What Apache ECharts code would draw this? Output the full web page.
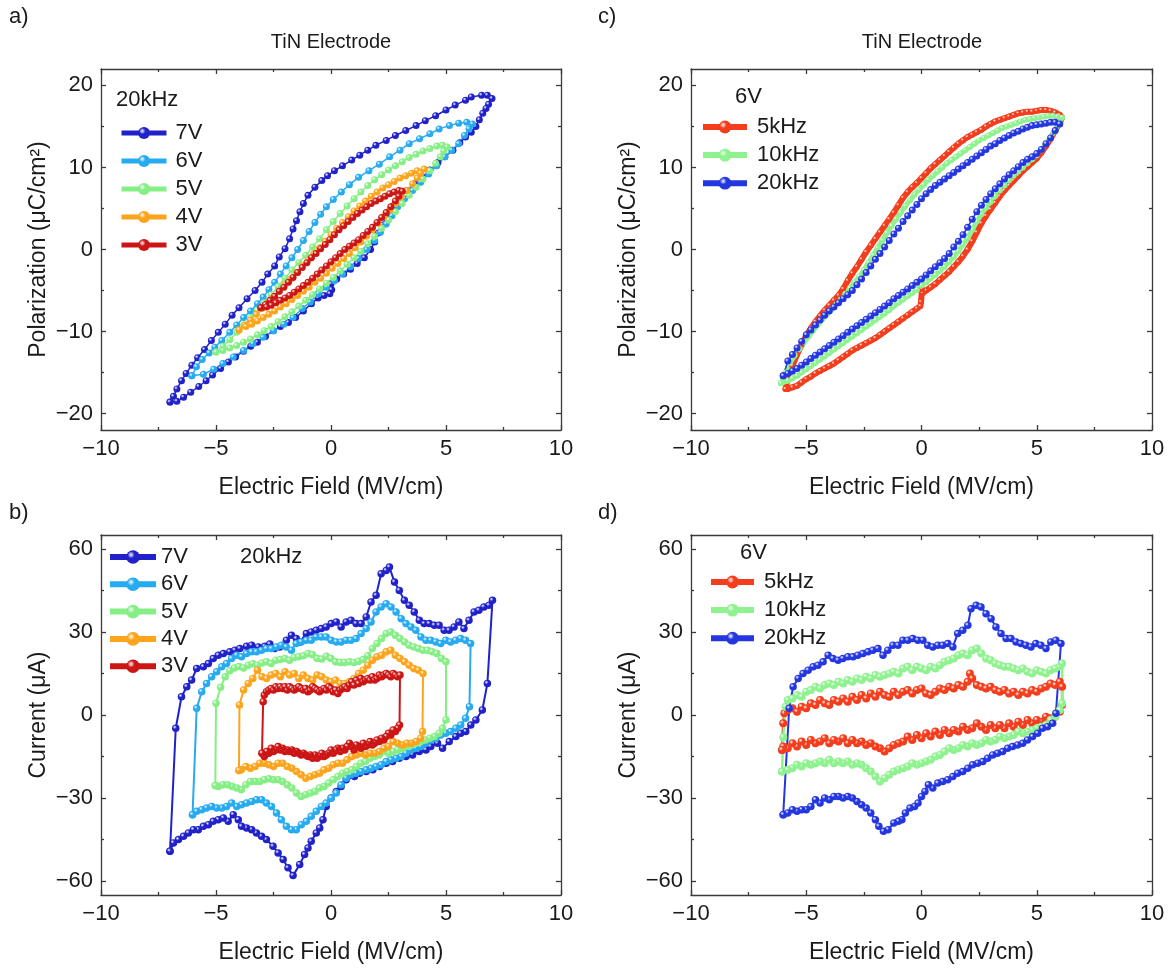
<!DOCTYPE html>
<html>
<head>
<meta charset="utf-8">
<title>TiN Electrode P–E and I–E loops</title>
<script src="https://cdn.jsdelivr.net/npm/echarts@6/dist/echarts.min.js"></script>
<style>
  html, body { margin: 0; padding: 0; background: #ffffff; }
  #chart { width: 1175px; height: 968px; }
</style>
</head>
<body>
<div id="chart"></div>
<script>
// ---------- axis ticks ----------
const fieldTicks = [-10, -5, 0, 5, 10];
const fieldMinor = [-7.5, -2.5, 2.5, 7.5];
const polTicks = [-20, -10, 0, 10, 20];
const polMinor = [-15, -5, 5, 15];
const curTicks = [-60, -30, 0, 30, 60];
const curMinor = [-45, -15, 15, 45];

const voltLabels = ['7V', '6V', '5V', '4V', '3V'];
const freqLabels = ['5kHz', '10kHz', '20kHz'];

// ---------- (a) P–E loops at 20 kHz, [E (MV/cm), P (µC/cm²)] ----------
const pe7V = [
  [-7.0,-18.6],[-6.85,-17.9],[-6.7,-17.0],[-6.5,-16.0],[-6.3,-15.1],[-6.05,-14.1],[-5.8,-13.2],[-5.5,-12.2],
  [-5.2,-11.1],[-4.9,-10.1],[-4.6,-9.1],[-4.3,-8.0],[-4.0,-7.1],[-3.65,-6.0],[-3.3,-5.0],[-3.0,-4.0],
  [-2.75,-3.0],[-2.45,-2.0],[-2.25,-0.9],[-2.0,0.1],[-1.8,1.3],[-1.65,2.5],[-1.5,3.5],[-1.35,4.6],
  [-1.2,5.6],[-1.0,6.6],[-0.7,7.6],[-0.4,8.4],[-0.15,9.0],[0.15,9.6],[0.5,10.2],[0.9,10.9],
  [1.25,11.5],[1.6,12.1],[1.95,12.7],[2.4,13.3],[2.8,13.9],[3.25,14.5],[3.7,15.1],[4.1,15.7],
  [4.55,16.3],[5.0,17.0],[5.4,17.6],[5.85,18.2],[6.1,18.6],[6.55,18.8],[6.8,18.8],[7.0,18.4],
  [6.85,17.7],[6.74,17.2],[6.6,16.6],[6.45,15.8],[6.3,15.0],[6.1,14.3],[5.85,13.7],[5.6,13.0],
  [5.3,12.1],[4.95,11.3],[4.65,10.6],[4.3,9.7],[3.98,8.8],[3.65,8.0],[3.3,7.2],[3.0,6.4],
  [2.7,5.3],[2.45,4.3],[2.25,3.0],[2.05,2.0],[1.9,0.9],[1.72,0.0],[1.45,-1.0],[1.14,-1.7],
  [0.85,-2.4],[0.55,-3.0],[0.25,-3.6],[0.0,-4.2],[0.03,-4.9],[-0.05,-5.4],[-0.3,-5.6],[-0.56,-5.9],
  [-0.85,-6.6],[-1.2,-7.5],[-1.54,-8.3],[-1.85,-8.9],[-2.2,-9.4],[-2.51,-9.9],[-2.85,-10.6],[-3.2,-11.3],
  [-3.49,-11.8],[-3.8,-12.4],[-4.15,-13.1],[-4.46,-13.7],[-4.8,-14.5],[-5.15,-15.3],[-5.43,-16.0],[-5.75,-16.7],
  [-6.1,-17.4],[-6.41,-18.0],[-6.7,-18.5],[-7.0,-18.6]
];
const pe6V = [
  [-6.05,-15.4],[-5.85,-14.3],[-5.6,-13.4],[-5.3,-12.6],[-5.05,-11.9],[-4.75,-11.1],[-4.4,-10.1],[-4.1,-9.2],
  [-3.8,-8.3],[-3.5,-7.5],[-3.2,-6.6],[-2.95,-5.8],[-2.7,-4.9],[-2.45,-4.0],[-2.2,-3.0],[-1.95,-2.0],
  [-1.7,-1.0],[-1.45,0.0],[-1.2,1.1],[-0.95,2.2],[-0.7,3.3],[-0.45,4.3],[-0.2,5.2],[0.1,6.1],
  [0.45,7.0],[0.8,7.9],[1.2,8.8],[1.65,9.6],[2.1,10.4],[2.55,11.3],[3.0,12.1],[3.4,12.9],
  [3.85,13.5],[4.3,14.1],[4.7,14.7],[5.15,15.1],[5.55,15.4],[5.9,15.5],[6.15,15.3],
  [6.0,14.7],[5.8,13.9],[5.55,12.9],[5.25,12.1],[4.95,11.3],[4.6,10.2],[4.25,9.2],[3.9,8.2],
  [3.55,7.2],[3.2,6.2],[2.9,5.2],[2.65,4.1],[2.4,3.1],[2.15,2.1],[1.9,1.1],[1.55,0.0],
  [1.2,-1.1],[0.85,-2.1],[0.5,-3.0],[0.15,-3.8],[-0.2,-4.6],[-0.55,-5.4],[-0.9,-6.4],[-1.25,-7.2],
  [-1.65,-8.3],[-2.05,-9.1],[-2.5,-9.9],[-2.95,-10.7],[-3.4,-11.5],[-3.8,-12.3],[-4.25,-13.1],[-4.7,-13.9],
  [-5.1,-14.6],[-5.55,-15.2],[-6.05,-15.4]
];
const pe5V = [
  [-5.0,-12.5],[-4.7,-11.8],[-4.4,-11.0],[-4.1,-10.1],[-3.8,-9.2],[-3.5,-8.3],[-3.2,-7.4],[-2.9,-6.5],
  [-2.6,-5.5],[-2.3,-4.5],[-2.0,-3.5],[-1.7,-2.5],[-1.4,-1.6],[-1.1,-0.7],[-0.8,0.3],[-0.5,1.3],
  [-0.2,2.4],[0.1,3.4],[0.4,4.4],[0.7,5.3],[1.0,6.2],[1.3,7.0],[1.6,7.8],[1.9,8.5],
  [2.2,9.1],[2.5,9.7],[2.8,10.2],[3.1,10.7],[3.4,11.2],[3.7,11.6],[4.0,12.0],[4.3,12.3],
  [4.6,12.6],[4.85,12.7],[5.05,12.5],
  [4.9,12.0],[4.75,11.3],[4.55,10.5],[4.3,9.6],[4.0,8.6],[3.7,7.6],[3.4,6.6],[3.1,5.6],
  [2.8,4.6],[2.5,3.6],[2.2,2.6],[1.9,1.6],[1.6,0.7],[1.3,-0.2],[1.0,-1.0],[0.7,-1.8],
  [0.4,-2.6],[0.1,-3.4],[-0.2,-4.1],[-0.5,-4.8],[-0.8,-5.5],[-1.1,-6.2],[-1.4,-6.9],[-1.7,-7.6],
  [-2.0,-8.2],[-2.3,-8.8],[-2.6,-9.4],[-2.9,-9.9],[-3.2,-10.4],[-3.5,-10.9],[-3.8,-11.3],[-4.1,-11.7],
  [-4.4,-12.0],[-4.7,-12.3],[-5.0,-12.5]
];
const pe4V = [
  [-4.0,-9.8],[-3.75,-9.2],[-3.5,-8.6],[-3.25,-7.9],[-3.0,-7.2],[-2.75,-6.5],[-2.5,-5.8],[-2.25,-5.1],
  [-2.0,-4.3],[-1.75,-3.6],[-1.5,-2.8],[-1.25,-2.0],[-1.0,-1.3],[-0.75,-0.5],[-0.5,0.2],[-0.25,1.0],
  [0.0,1.8],[0.25,2.6],[0.5,3.3],[0.75,4.0],[1.0,4.7],[1.25,5.3],[1.5,5.9],[1.75,6.5],
  [2.0,7.0],[2.25,7.5],[2.5,7.9],[2.75,8.3],[3.0,8.7],[3.25,9.0],[3.5,9.3],[3.75,9.6],[4.05,9.8],
  [3.9,9.3],[3.75,8.7],[3.55,8.0],[3.3,7.2],[3.05,6.4],[2.8,5.6],[2.55,4.8],[2.3,4.0],
  [2.05,3.2],[1.8,2.4],[1.55,1.6],[1.3,0.9],[1.05,0.2],[0.8,-0.5],[0.55,-1.1],[0.3,-1.7],
  [0.05,-2.3],[-0.2,-2.9],[-0.45,-3.5],[-0.7,-4.0],[-0.95,-4.6],[-1.2,-5.1],[-1.45,-5.6],[-1.7,-6.1],
  [-1.95,-6.6],[-2.2,-7.0],[-2.45,-7.5],[-2.7,-7.9],[-2.95,-8.3],[-3.2,-8.7],[-3.45,-9.1],[-3.7,-9.4],[-4.0,-9.8]
];
const pe3V = [
  [-3.05,-7.1],[-2.85,-6.7],[-2.65,-6.2],[-2.45,-5.7],[-2.25,-5.1],[-2.05,-4.6],[-1.85,-4.0],[-1.65,-3.4],
  [-1.45,-2.8],[-1.25,-2.2],[-1.05,-1.6],[-0.85,-1.0],[-0.65,-0.5],[-0.45,0.1],[-0.25,0.6],[-0.05,1.2],
  [0.15,1.8],[0.35,2.4],[0.55,2.9],[0.75,3.4],[0.95,3.9],[1.15,4.4],[1.35,4.8],[1.55,5.2],
  [1.75,5.6],[1.95,5.9],[2.15,6.2],[2.35,6.5],[2.55,6.8],[2.75,7.0],[2.95,7.2],[3.1,7.1],
  [2.95,6.5],[2.8,5.9],[2.6,5.2],[2.4,4.5],[2.2,3.9],[2.0,3.3],[1.8,2.7],[1.6,2.2],
  [1.4,1.7],[1.2,1.2],[1.0,0.8],[0.8,0.4],[0.6,0.0],[0.4,-0.5],[0.2,-1.0],[0.0,-1.5],
  [-0.2,-2.0],[-0.4,-2.5],[-0.6,-3.0],[-0.8,-3.5],[-1.0,-4.0],[-1.2,-4.4],[-1.4,-4.8],[-1.6,-5.2],
  [-1.8,-5.6],[-2.0,-5.9],[-2.2,-6.2],[-2.4,-6.5],[-2.6,-6.8],[-2.8,-7.0],[-3.05,-7.1]
];

// ---------- (b) I–E loops at 20 kHz, [E (MV/cm), I (µA)] ----------
const ie7V = [
  [-7.0,-49.2],[-6.75,-4.8],[-6.5,6.6],[-6.27,10.2],[-6.06,12.6],[-5.84,16.8],[-5.55,17.4],[-5.33,18.6],
  [-5.12,20.4],[-4.9,21.6],[-4.68,22.2],[-4.4,22.8],[-4.18,23.4],[-3.96,24.0],[-3.67,24.8],[-3.45,25.2],
  [-3.16,24.6],[-2.88,24.8],[-2.66,25.6],[-2.45,24.0],[-2.23,24.6],[-1.94,27.0],[-1.72,28.8],[-1.51,27.6],
  [-1.36,26.4],[-1.07,29.4],[-0.86,30.0],[-0.64,30.6],[-0.42,31.2],[-0.21,31.8],[0.01,33.0],[0.23,33.6],
  [0.44,31.8],[0.66,33.6],[0.87,34.2],[1.09,33.0],[1.31,33.0],[1.53,35.4],[1.74,40.8],[1.96,43.2],
  [2.18,51.0],[2.4,52.2],[2.54,53.4],[2.76,48.0],[2.97,45.0],[3.19,41.4],[3.4,39.6],[3.62,37.2],
  [3.84,34.2],[4.05,33.0],[4.27,33.0],[4.49,32.4],[4.7,32.4],[4.92,30.6],[5.13,30.6],[5.35,31.8],
  [5.56,33.6],[5.78,31.2],[6.0,34.2],[6.22,37.2],[6.43,37.8],[6.65,39.0],[6.87,39.6],[7.02,41.4],
  [6.8,11.4],[6.58,1.8],[6.3,-1.8],[6.08,-3.6],[5.86,-6.0],[5.64,-6.6],[5.43,-7.8],[5.14,-9.6],
  [4.85,-12.0],[4.63,-10.2],[4.34,-11.4],[4.13,-12.6],[3.84,-13.2],[3.55,-14.4],[3.26,-15.0],[2.97,-15.6],
  [2.68,-16.8],[2.4,-17.4],[2.11,-18.6],[1.82,-19.8],[1.53,-20.4],[1.24,-21.0],[1.02,-22.2],[0.66,-23.4],
  [0.44,-25.8],[0.23,-27.6],[0.01,-30.0],[-0.21,-33.0],[-0.35,-37.8],[-0.49,-40.8],[-0.64,-42.6],[-0.86,-45.6],
  [-1.0,-48.0],[-1.15,-50.4],[-1.36,-54.0],[-1.65,-58.0],[-1.87,-55.2],[-2.08,-52.2],[-2.3,-49.8],[-2.52,-47.4],
  [-2.81,-45.0],[-3.02,-43.8],[-3.24,-42.6],[-3.45,-41.4],[-3.67,-40.8],[-3.89,-40.2],[-4.03,-37.8],[-4.25,-36.0],
  [-4.47,-38.4],[-4.68,-37.2],[-4.9,-37.8],[-5.12,-38.4],[-5.33,-39.6],[-5.55,-40.2],[-5.77,-41.4],[-5.98,-41.4],
  [-6.2,-42.6],[-6.41,-43.8],[-6.63,-45.0],[-6.85,-46.2],[-7.0,-49.2]
];
const ie6V = [
  [-6.02,-36.0],[-5.84,2.4],[-5.62,8.4],[-5.41,11.4],[-5.19,13.8],[-4.97,15.6],[-4.75,17.4],[-4.54,18.6],
  [-4.32,20.4],[-4.1,21.6],[-3.89,21.0],[-3.67,22.2],[-3.45,22.8],[-3.24,22.8],[-3.02,23.4],[-2.81,24.0],
  [-2.59,24.0],[-2.37,24.6],[-2.16,25.2],[-1.94,24.6],[-1.72,23.4],[-1.51,25.8],[-1.29,26.4],[-1.07,27.0],
  [-0.86,27.0],[-0.64,28.2],[-0.42,28.2],[-0.21,28.2],[0.01,27.0],[0.23,26.4],[0.44,26.4],[0.66,27.0],
  [0.87,27.0],[1.09,27.6],[1.31,29.4],[1.53,31.2],[1.74,33.6],[1.96,37.2],[2.18,39.0],[2.4,40.2],
  [2.61,39.0],[2.83,37.2],[3.05,34.8],[3.26,33.0],[3.48,31.8],[3.69,30.6],[3.91,28.2],[4.13,27.0],
  [4.34,27.0],[4.56,26.4],[4.77,25.8],[4.99,27.0],[5.2,26.4],[5.42,27.0],[5.64,27.6],[5.85,27.0],[6.07,25.8],
  [6.02,3.0],[5.85,-1.2],[5.64,-3.6],[5.43,-4.8],[5.2,-6.0],[4.99,-6.6],[4.77,-7.2],[4.56,-8.4],
  [4.34,-9.0],[4.13,-10.2],[3.91,-11.4],[3.69,-12.0],[3.48,-12.6],[3.26,-13.8],[3.05,-15.0],[2.83,-15.6],
  [2.61,-16.2],[2.4,-16.8],[2.18,-18.0],[1.96,-18.6],[1.74,-19.2],[1.53,-19.8],[1.31,-20.4],[1.09,-21.0],
  [0.87,-21.6],[0.66,-22.8],[0.44,-25.2],[0.23,-28.2],[0.01,-30.0],[-0.21,-31.8],[-0.42,-33.0],[-0.64,-34.8],
  [-0.86,-36.6],[-1.07,-38.4],[-1.29,-39.6],[-1.51,-41.4],[-1.72,-41.4],[-1.94,-40.2],[-2.16,-37.8],[-2.37,-35.4],
  [-2.59,-33.0],[-2.81,-31.8],[-3.02,-30.6],[-3.24,-30.6],[-3.45,-31.2],[-3.67,-31.8],[-3.89,-32.4],[-4.1,-33.0],
  [-4.32,-31.8],[-4.54,-33.0],[-4.75,-33.6],[-4.97,-33.6],[-5.19,-33.0],[-5.41,-33.6],[-5.62,-34.2],[-5.84,-34.8],[-6.02,-36.0]
];
const ie5V = [
  [-5.03,-25.5],[-5.0,4.2],[-4.8,10.0],[-4.6,13.8],[-4.4,16.0],[-4.2,17.0],[-4.0,17.5],[-3.8,17.0],
  [-3.6,18.0],[-3.4,18.5],[-3.2,18.0],[-3.0,18.8],[-2.8,19.2],[-2.6,18.6],[-2.4,19.8],[-2.2,20.0],
  [-2.0,20.4],[-1.8,19.8],[-1.6,20.8],[-1.4,21.0],[-1.2,21.4],[-1.0,22.2],[-0.8,21.8],[-0.6,20.4],
  [-0.4,20.2],[-0.2,21.2],[0.0,20.4],[0.2,19.2],[0.4,19.0],[0.6,19.0],[0.8,19.2],[1.0,19.0],
  [1.2,19.4],[1.4,20.0],[1.6,21.4],[1.8,24.0],[2.0,25.8],[2.2,27.6],[2.4,29.4],[2.6,30.0],
  [2.8,28.8],[3.0,27.6],[3.2,26.4],[3.4,25.2],[3.6,24.6],[3.8,24.0],[4.0,23.4],[4.2,23.4],
  [4.4,22.8],[4.6,22.2],[4.8,20.4],[5.0,19.2],
  [5.0,-1.8],[4.85,-4.8],[4.7,-6.6],[4.5,-7.8],[4.3,-8.4],[4.1,-9.0],[3.9,-9.6],[3.7,-10.2],
  [3.5,-10.8],[3.3,-11.4],[3.1,-12.0],[2.9,-12.6],[2.7,-13.2],[2.5,-13.8],[2.3,-13.2],[2.1,-14.4],
  [1.9,-15.0],[1.7,-15.6],[1.5,-16.8],[1.3,-17.4],[1.1,-18.6],[0.9,-19.8],[0.7,-20.4],[0.5,-21.0],
  [0.3,-22.2],[0.1,-23.4],[-0.1,-24.6],[-0.3,-25.8],[-0.5,-26.4],[-0.7,-27.6],[-0.9,-28.2],[-1.1,-28.8],
  [-1.3,-29.4],[-1.5,-28.2],[-1.7,-26.4],[-1.9,-25.2],[-2.1,-24.0],[-2.3,-23.4],[-2.5,-23.4],[-2.7,-23.0],
  [-2.9,-23.4],[-3.1,-24.0],[-3.3,-24.0],[-3.5,-24.0],[-3.7,-25.2],[-3.9,-27.0],[-4.1,-26.4],[-4.3,-25.8],
  [-4.5,-25.2],[-4.7,-25.2],[-4.9,-25.8],[-5.03,-25.5]
];
const ie4V = [
  [-4.0,-20.0],[-3.98,3.6],[-3.8,9.0],[-3.6,11.4],[-3.4,13.2],[-3.2,16.2],[-3.0,13.8],[-2.8,13.2],
  [-2.6,14.4],[-2.4,15.0],[-2.2,13.8],[-2.0,15.6],[-1.8,14.4],[-1.6,15.0],[-1.4,13.2],[-1.2,14.4],
  [-1.0,13.2],[-0.8,12.6],[-0.6,14.4],[-0.4,13.8],[-0.2,12.6],[0.0,12.0],[0.2,12.6],[0.4,11.4],
  [0.6,11.4],[0.8,12.0],[1.0,13.2],[1.2,15.0],[1.4,16.2],[1.6,18.0],[1.8,19.8],[2.0,21.0],
  [2.2,21.6],[2.4,22.8],[2.6,23.4],[2.8,21.6],[3.0,20.4],[3.2,19.2],[3.4,18.0],[3.6,16.8],
  [3.8,16.2],[4.0,15.0],
  [3.98,-6.0],[3.9,-8.4],[3.7,-9.6],[3.5,-10.2],[3.3,-10.2],[3.1,-10.8],[2.9,-10.2],[2.7,-9.6],
  [2.5,-11.4],[2.3,-12.0],[2.1,-13.2],[1.9,-13.8],[1.7,-13.8],[1.5,-14.4],[1.3,-13.8],[1.1,-14.4],
  [0.9,-15.0],[0.7,-16.2],[0.5,-17.4],[0.3,-17.4],[0.1,-18.0],[-0.1,-19.2],[-0.3,-19.8],[-0.5,-21.0],
  [-0.7,-21.6],[-0.9,-22.2],[-1.1,-22.8],[-1.3,-21.6],[-1.5,-20.4],[-1.7,-19.2],[-1.9,-18.6],[-2.1,-17.4],
  [-2.3,-17.4],[-2.5,-18.6],[-2.7,-18.0],[-2.9,-17.4],[-3.1,-17.4],[-3.3,-18.6],[-3.5,-19.2],[-3.7,-18.6],
  [-3.9,-19.8],[-4.0,-20.0]
];
const ie3V = [
  [-3.0,-13.8],[-2.95,4.8],[-2.9,7.2],[-2.8,8.4],[-2.7,9.0],[-2.6,9.6],[-2.5,9.0],[-2.4,10.2],
  [-2.3,9.6],[-2.2,10.2],[-2.1,9.6],[-2.0,10.2],[-1.9,9.0],[-1.8,10.2],[-1.7,9.6],[-1.6,9.0],
  [-1.5,9.6],[-1.4,10.2],[-1.3,9.6],[-1.2,9.0],[-1.1,9.6],[-1.0,8.4],[-0.9,9.0],[-0.8,10.2],
  [-0.7,9.6],[-0.6,9.0],[-0.5,8.4],[-0.4,9.0],[-0.3,9.6],[-0.2,9.0],[-0.1,10.2],[0.0,9.6],
  [0.1,8.4],[0.2,9.0],[0.3,7.8],[0.4,9.0],[0.5,9.6],[0.6,10.2],[0.7,9.6],[0.8,10.8],
  [0.9,12.0],[1.0,10.8],[1.1,12.6],[1.2,11.4],[1.3,13.2],[1.4,12.0],[1.5,12.6],[1.6,13.2],
  [1.7,12.6],[1.8,13.8],[1.9,12.6],[2.0,13.2],[2.1,14.4],[2.2,13.8],[2.3,14.4],[2.4,15.0],
  [2.5,14.4],[2.6,13.8],[2.7,15.0],[2.8,14.4],[2.9,13.8],[3.0,14.4],
  [2.98,-3.6],[2.9,-4.8],[2.8,-6.0],[2.7,-5.4],[2.6,-7.2],[2.5,-6.6],[2.4,-7.8],[2.3,-9.0],
  [2.2,-8.4],[2.1,-9.6],[2.0,-9.0],[1.9,-10.2],[1.8,-10.8],[1.7,-9.6],[1.6,-10.8],[1.5,-11.4],
  [1.4,-10.2],[1.3,-12.0],[1.2,-11.4],[1.1,-10.8],[1.0,-12.6],[0.9,-11.4],[0.8,-10.2],[0.7,-11.4],
  [0.6,-12.6],[0.5,-12.0],[0.4,-13.2],[0.3,-12.0],[0.2,-12.6],[0.1,-13.8],[0.0,-12.6],[-0.1,-13.8],
  [-0.2,-14.4],[-0.3,-15.0],[-0.4,-13.8],[-0.5,-15.0],[-0.6,-15.6],[-0.7,-14.4],[-0.8,-15.6],[-0.9,-14.4],
  [-1.0,-15.0],[-1.1,-14.4],[-1.2,-13.8],[-1.3,-14.4],[-1.4,-13.8],[-1.5,-13.2],[-1.6,-13.8],[-1.7,-12.6],
  [-1.8,-13.2],[-1.9,-12.6],[-2.0,-13.2],[-2.1,-12.0],[-2.2,-12.6],[-2.3,-11.4],[-2.4,-12.6],[-2.5,-13.2],
  [-2.6,-12.0],[-2.7,-13.8],[-2.8,-13.2],[-2.9,-15.0],[-3.0,-13.8]
];

// ---------- (c) P–E loops at 6 V ----------
const pe5k = [
  [-5.9,-17.0],[-5.8,-15.8],[-5.6,-14.2],[-5.4,-12.8],[-5.2,-11.6],[-5.0,-10.5],[-4.8,-9.6],[-4.6,-8.8],
  [-4.4,-8.1],[-4.2,-7.4],[-4.0,-6.8],[-3.8,-6.2],[-3.6,-5.6],[-3.4,-4.8],[-3.2,-3.8],[-3.0,-2.9],
  [-2.8,-2.1],[-2.6,-1.2],[-2.4,-0.3],[-2.2,0.5],[-2.0,1.3],[-1.8,2.1],[-1.6,2.9],[-1.4,3.7],
  [-1.2,4.5],[-1.0,5.4],[-0.8,6.3],[-0.6,7.0],[-0.4,7.6],[-0.2,8.1],[0.0,8.7],[0.2,9.3],
  [0.4,9.9],[0.6,10.4],[0.8,10.9],[1.0,11.4],[1.2,11.9],[1.4,12.4],[1.6,12.9],[1.8,13.3],
  [2.0,13.7],[2.2,14.0],[2.4,14.3],[2.6,14.6],[2.8,15.0],[3.0,15.3],[3.2,15.6],[3.4,15.8],
  [3.6,16.0],[3.8,16.2],[4.0,16.4],[4.2,16.6],[4.4,16.7],[4.6,16.8],[4.8,16.8],[5.0,16.9],
  [5.2,17.0],[5.4,17.0],[5.6,16.9],[5.8,16.7],[6.0,16.4],[6.1,16.1],
  [6.0,15.4],[5.8,14.5],[5.6,13.5],[5.4,12.6],[5.2,11.8],[5.0,11.1],[4.8,10.6],[4.6,10.1],
  [4.4,9.6],[4.2,9.0],[4.0,8.4],[3.8,7.8],[3.6,7.2],[3.4,6.5],[3.2,5.7],[3.0,4.9],
  [2.8,4.1],[2.6,3.2],[2.4,2.1],[2.2,1.0],[2.0,0.0],[1.8,-0.8],[1.6,-1.5],[1.4,-2.1],
  [1.2,-2.7],[1.0,-3.2],[0.8,-3.7],[0.6,-4.2],[0.4,-4.6],[0.2,-5.0],[0.05,-5.3],[0.02,-4.8],
  [-0.02,-6.4],[-0.05,-6.9],[-0.2,-7.2],[-0.4,-7.6],[-0.6,-8.0],[-0.8,-8.4],[-1.0,-8.8],[-1.2,-9.2],
  [-1.4,-9.6],[-1.6,-10.0],[-1.8,-10.4],[-2.0,-10.8],[-2.2,-11.1],[-2.4,-11.4],[-2.6,-11.7],[-2.8,-12.0],
  [-3.0,-12.3],[-3.2,-12.7],[-3.4,-13.1],[-3.6,-13.5],[-3.8,-13.9],[-4.0,-14.2],[-4.2,-14.5],[-4.4,-14.8],
  [-4.6,-15.1],[-4.8,-15.5],[-5.0,-15.8],[-5.2,-16.2],[-5.4,-16.6],[-5.6,-16.8],[-5.8,-17.0],[-5.9,-17.0]
];
const pe10k = [
  [-6.1,-16.3],[-5.9,-15.0],[-5.7,-13.8],[-5.5,-12.9],[-5.3,-12.1],[-5.1,-11.3],[-4.9,-10.6],[-4.7,-9.9],
  [-4.5,-9.2],[-4.3,-8.5],[-4.1,-7.9],[-3.9,-7.3],[-3.7,-6.7],[-3.5,-6.1],[-3.3,-5.4],[-3.1,-4.7],
  [-2.9,-4.0],[-2.7,-3.3],[-2.5,-2.5],[-2.3,-1.6],[-2.1,-0.7],[-1.9,0.2],[-1.7,1.1],[-1.5,2.0],
  [-1.3,2.9],[-1.1,3.7],[-0.9,4.5],[-0.7,5.3],[-0.5,6.0],[-0.3,6.7],[-0.1,7.3],[0.1,7.9],
  [0.3,8.5],[0.5,9.0],[0.7,9.5],[0.9,10.0],[1.1,10.5],[1.3,10.9],[1.5,11.3],[1.7,11.7],
  [1.9,12.1],[2.1,12.5],[2.3,12.9],[2.5,13.3],[2.7,13.6],[2.9,13.9],[3.1,14.2],[3.3,14.5],
  [3.5,14.8],[3.7,15.0],[3.9,15.2],[4.1,15.4],[4.3,15.6],[4.5,15.8],[4.7,15.9],[4.9,16.0],
  [5.1,16.1],[5.3,16.2],[5.5,16.3],[5.7,16.3],[5.9,16.2],[6.1,16.1],
  [6.0,15.5],[5.8,14.6],[5.6,13.7],[5.4,12.9],[5.2,12.1],[5.0,11.5],[4.8,11.0],[4.6,10.5],
  [4.4,10.0],[4.2,9.5],[4.0,9.0],[3.8,8.4],[3.6,7.8],[3.4,7.2],[3.2,6.5],[3.0,5.8],
  [2.8,5.1],[2.6,4.3],[2.4,3.4],[2.2,2.4],[2.0,1.4],[1.8,0.6],[1.6,-0.2],[1.4,-0.9],
  [1.2,-1.5],[1.0,-2.1],[0.8,-2.6],[0.6,-3.1],[0.4,-3.5],[0.2,-4.0],[0.0,-4.4],[-0.2,-4.9],
  [-0.4,-5.3],[-0.6,-5.7],[-0.8,-6.1],[-1.0,-6.5],[-1.2,-6.9],[-1.4,-7.4],[-1.6,-7.8],[-1.8,-8.2],
  [-2.0,-8.6],[-2.2,-9.0],[-2.4,-9.4],[-2.6,-9.8],[-2.8,-10.2],[-3.0,-10.6],[-3.2,-11.0],[-3.4,-11.4],
  [-3.6,-11.8],[-3.8,-12.2],[-4.0,-12.6],[-4.2,-13.0],[-4.4,-13.4],[-4.6,-13.8],[-4.8,-14.2],[-5.0,-14.6],
  [-5.2,-15.0],[-5.4,-15.4],[-5.6,-15.7],[-5.8,-16.0],[-6.1,-16.3]
];
const pe20k = [
  [-6.0,-15.4],[-5.8,-13.6],[-5.6,-12.8],[-5.4,-12.0],[-5.2,-11.2],[-5.0,-10.4],[-4.8,-9.8],[-4.6,-9.2],
  [-4.4,-8.6],[-4.2,-8.0],[-4.0,-7.5],[-3.8,-7.0],[-3.6,-6.5],[-3.4,-6.0],[-3.2,-5.5],[-3.0,-5.0],
  [-2.8,-4.3],[-2.6,-3.6],[-2.4,-2.8],[-2.2,-2.0],[-2.0,-1.2],[-1.8,-0.5],[-1.6,0.3],[-1.4,1.1],
  [-1.2,1.9],[-1.0,2.6],[-0.8,3.4],[-0.6,4.1],[-0.4,4.8],[-0.2,5.5],[0.0,6.2],[0.2,6.8],
  [0.4,7.3],[0.6,7.8],[0.8,8.2],[1.0,8.6],[1.2,9.0],[1.4,9.4],[1.6,9.8],[1.8,10.2],
  [2.0,10.6],[2.2,11.0],[2.4,11.4],[2.6,11.8],[2.8,12.2],[3.0,12.6],[3.2,12.9],[3.4,13.3],
  [3.6,13.6],[3.8,13.9],[4.0,14.2],[4.2,14.4],[4.4,14.7],[4.6,14.9],[4.8,15.1],[5.0,15.2],
  [5.2,15.3],[5.4,15.4],[5.6,15.5],[5.8,15.5],[6.0,15.3],
  [5.8,14.5],[5.6,13.6],[5.4,12.9],[5.2,12.2],[5.0,11.7],[4.8,11.3],[4.6,11.0],[4.4,10.6],
  [4.2,10.1],[4.0,9.6],[3.8,9.1],[3.6,8.6],[3.4,8.0],[3.2,7.4],[3.0,6.8],[2.8,6.1],
  [2.6,5.4],[2.4,4.6],[2.2,3.7],[2.0,2.7],[1.8,1.8],[1.6,1.0],[1.4,0.3],[1.2,-0.5],
  [1.0,-1.1],[0.8,-1.6],[0.6,-2.1],[0.4,-2.6],[0.2,-3.1],[0.0,-3.6],[-0.2,-4.0],[-0.4,-4.4],
  [-0.6,-4.8],[-0.8,-5.2],[-1.0,-5.6],[-1.2,-6.0],[-1.4,-6.5],[-1.6,-6.9],[-1.8,-7.3],[-2.0,-7.7],
  [-2.2,-8.1],[-2.4,-8.5],[-2.6,-8.9],[-2.8,-9.3],[-3.0,-9.7],[-3.2,-10.1],[-3.4,-10.5],[-3.6,-10.9],
  [-3.8,-11.3],[-4.0,-11.7],[-4.2,-12.1],[-4.4,-12.5],[-4.6,-12.9],[-4.8,-13.3],[-5.0,-13.7],[-5.2,-14.1],
  [-5.4,-14.5],[-5.6,-14.8],[-5.8,-15.1],[-6.0,-15.4]
];

// ---------- (d) I–E loops at 6 V ----------
const ie5k = [
  [-6.05,-12.6],[-6.0,-3.0],[-5.95,0.6],[-5.8,1.8],[-5.6,2.4],[-5.4,1.2],[-5.2,3.0],[-5.0,2.4],
  [-4.8,4.2],[-4.6,3.6],[-4.4,5.4],[-4.2,4.2],[-4.0,3.6],[-3.8,5.4],[-3.6,4.8],[-3.4,6.0],
  [-3.2,4.8],[-3.0,6.6],[-2.8,5.4],[-2.6,7.2],[-2.4,6.0],[-2.2,7.8],[-2.0,6.6],[-1.8,8.4],
  [-1.6,7.2],[-1.4,6.6],[-1.2,8.4],[-1.0,7.2],[-0.8,8.4],[-0.6,9.0],[-0.4,7.8],[-0.2,9.0],
  [0.0,9.6],[0.2,7.8],[0.4,7.2],[0.6,8.4],[0.8,9.6],[1.0,9.0],[1.2,10.2],[1.4,9.6],
  [1.6,10.8],[1.8,10.2],[2.0,12.0],[2.1,15.0],[2.2,13.2],[2.4,10.8],[2.6,10.2],[2.8,9.6],
  [3.0,10.2],[3.2,9.0],[3.4,8.4],[3.6,9.0],[3.8,7.8],[4.0,8.4],[4.2,7.2],[4.4,8.4],
  [4.6,7.8],[4.8,9.0],[5.0,8.4],[5.2,9.6],[5.4,10.2],[5.6,11.4],[5.8,10.8],[6.0,12.0],[6.1,10.2],
  [6.1,3.6],[6.0,1.2],[5.8,-0.6],[5.6,-1.2],[5.4,-0.6],[5.2,-2.4],[5.0,-1.8],[4.8,-3.0],
  [4.6,-1.8],[4.4,-3.6],[4.2,-2.4],[4.0,-4.2],[3.8,-3.0],[3.6,-4.8],[3.4,-3.6],[3.2,-4.8],
  [3.0,-3.6],[2.8,-5.4],[2.6,-4.2],[2.4,-3.0],[2.2,-4.8],[2.0,-5.4],[1.8,-4.2],[1.6,-6.0],
  [1.4,-5.4],[1.2,-6.6],[1.0,-5.4],[0.8,-7.2],[0.6,-6.0],[0.4,-7.8],[0.2,-6.6],[0.0,-8.4],
  [-0.2,-7.2],[-0.4,-9.0],[-0.6,-7.8],[-0.8,-9.6],[-1.0,-10.2],[-1.2,-10.8],[-1.4,-12.0],[-1.6,-13.2],
  [-1.8,-12.0],[-2.0,-11.4],[-2.2,-10.2],[-2.4,-10.8],[-2.6,-9.6],[-2.8,-10.2],[-3.0,-9.0],[-3.2,-10.2],
  [-3.4,-8.4],[-3.6,-9.6],[-3.8,-9.0],[-4.0,-10.2],[-4.2,-8.4],[-4.4,-9.6],[-4.6,-10.2],[-4.8,-9.0],
  [-5.0,-10.8],[-5.2,-9.6],[-5.4,-11.4],[-5.6,-10.2],[-5.8,-12.0],[-6.0,-11.4],[-6.05,-12.6]
];
const ie10k = [
  [-6.05,-20.4],[-6.0,-8.0],[-5.9,3.0],[-5.8,5.4],[-5.6,6.0],[-5.4,7.2],[-5.2,6.6],[-5.0,8.4],
  [-4.8,9.0],[-4.6,10.2],[-4.4,9.6],[-4.2,10.8],[-4.0,11.4],[-3.8,10.8],[-3.6,12.0],[-3.4,11.4],
  [-3.2,12.6],[-3.0,12.0],[-2.8,13.2],[-2.6,12.6],[-2.4,13.8],[-2.2,13.2],[-2.0,14.4],[-1.8,13.8],
  [-1.6,14.4],[-1.4,15.0],[-1.2,15.6],[-1.0,15.0],[-0.8,16.8],[-0.6,17.4],[-0.4,16.2],[-0.2,17.4],
  [0.0,16.8],[0.2,16.2],[0.4,17.4],[0.6,16.8],[0.8,18.0],[1.0,19.2],[1.2,19.8],[1.4,20.4],
  [1.6,21.6],[1.8,22.2],[2.0,21.6],[2.2,23.4],[2.4,24.0],[2.6,22.2],[2.8,20.4],[3.0,19.8],
  [3.2,18.6],[3.4,18.0],[3.6,17.4],[3.8,17.4],[4.0,16.8],[4.2,16.2],[4.4,16.8],[4.6,15.6],
  [4.8,15.0],[5.0,16.2],[5.2,15.6],[5.4,15.0],[5.6,16.2],[5.8,16.8],[6.0,17.4],[6.1,18.6],
  [6.1,4.2],[6.0,1.8],[5.8,-0.6],[5.6,-1.8],[5.4,-3.6],[5.2,-4.2],[5.0,-4.8],[4.8,-5.4],
  [4.6,-6.0],[4.4,-6.6],[4.2,-6.0],[4.0,-7.2],[3.8,-7.8],[3.6,-8.4],[3.4,-7.8],[3.2,-9.0],
  [3.0,-9.6],[2.8,-9.0],[2.6,-10.2],[2.4,-10.8],[2.2,-10.2],[2.0,-11.4],[1.8,-10.8],[1.6,-12.0],
  [1.4,-12.6],[1.2,-12.0],[1.0,-13.2],[0.8,-14.4],[0.6,-15.0],[0.4,-16.2],[0.2,-16.8],[0.0,-17.4],
  [-0.2,-18.0],[-0.4,-17.4],[-0.6,-18.6],[-0.8,-19.2],[-1.0,-19.8],[-1.2,-20.4],[-1.4,-21.6],[-1.6,-22.8],
  [-1.8,-24.0],[-2.0,-22.2],[-2.2,-20.4],[-2.4,-19.2],[-2.6,-18.0],[-2.8,-17.4],[-3.0,-18.0],[-3.2,-16.8],
  [-3.4,-17.4],[-3.6,-16.8],[-3.8,-17.4],[-4.0,-16.2],[-4.2,-17.4],[-4.4,-16.8],[-4.6,-17.4],[-4.8,-18.0],
  [-5.0,-17.4],[-5.2,-18.6],[-5.4,-18.0],[-5.6,-19.2],[-5.8,-19.8],[-6.05,-20.4]
];
const ie20k = [
  [-6.0,-36.0],[-5.74,2.4],[-5.57,10.2],[-5.35,13.2],[-5.14,15.0],[-4.92,16.2],[-4.7,17.4],[-4.49,18.0],
  [-4.27,19.2],[-4.05,21.6],[-3.84,20.4],[-3.62,19.8],[-3.41,20.4],[-3.19,21.0],[-2.97,21.0],[-2.76,21.6],
  [-2.54,22.2],[-2.32,22.8],[-2.11,23.4],[-1.89,24.0],[-1.67,21.6],[-1.46,23.4],[-1.24,25.2],[-1.02,25.2],
  [-0.81,27.0],[-0.59,27.0],[-0.38,27.6],[-0.16,27.0],[0.06,27.0],[0.27,25.2],[0.49,24.6],[0.71,25.2],
  [0.92,25.2],[1.14,25.8],[1.36,24.6],[1.57,29.4],[1.79,30.6],[2.01,32.4],[2.15,38.4],[2.37,39.6],
  [2.58,39.0],[2.8,36.6],[3.02,34.8],[3.23,31.8],[3.45,29.4],[3.67,27.6],[3.88,27.6],[4.1,26.4],
  [4.31,25.8],[4.53,25.2],[4.75,24.6],[4.96,25.8],[5.18,25.2],[5.4,24.0],[5.61,26.4],[5.83,27.0],[6.05,25.8],
  [5.83,0.6],[5.69,-3.0],[5.47,-4.2],[5.25,-4.8],[5.04,-6.6],[4.82,-7.8],[4.6,-9.0],[4.39,-10.2],
  [4.17,-10.8],[3.95,-11.4],[3.74,-12.0],[3.52,-13.2],[3.3,-13.8],[3.09,-14.4],[2.87,-15.6],[2.66,-16.8],
  [2.44,-17.4],[2.22,-18.0],[2.01,-19.2],[1.79,-20.4],[1.57,-21.0],[1.36,-22.2],[1.14,-23.4],[0.92,-24.0],
  [0.71,-24.6],[0.49,-26.4],[0.3,-25.2],[0.15,-27.6],[0.0,-29.4],[-0.15,-31.8],[-0.3,-33.0],[-0.5,-33.6],
  [-0.7,-35.4],[-0.85,-37.8],[-1.0,-38.4],[-1.2,-39.0],[-1.45,-41.4],[-1.65,-42.0],[-1.85,-40.2],[-2.0,-37.8],
  [-2.2,-35.4],[-2.4,-33.6],[-2.6,-32.4],[-2.8,-31.2],[-3.0,-30.0],[-3.2,-29.4],[-3.4,-30.0],[-3.6,-29.4],
  [-3.8,-29.4],[-4.0,-30.6],[-4.2,-30.0],[-4.4,-31.8],[-4.6,-30.6],[-4.8,-33.0],[-5.0,-34.2],[-5.2,-34.2],
  [-5.4,-34.8],[-5.6,-34.2],[-5.8,-35.4],[-6.0,-36.0]
];

// ---------- styling ----------
const FONT = '"Liberation Sans", Arial, Helvetica, sans-serif';
const INK = '#1a1a1a';
const FRAME = '#3a3a3a';

const voltColors = ['#2121c9', '#26aaf0', '#85ee85', '#fca41c', '#cc1616'];
const freqColors = ['#f33d1c', '#8ef28e', '#2336e0'];

// glossy sphere look for the markers
function sphere(c) {
  return new echarts.graphic.RadialGradient(0.36, 0.34, 0.62, [
    { offset: 0, color: 'rgba(255,255,255,0.95)' },
    { offset: 0.42, color: c },
    { offset: 1, color: c }
  ]);
}

function minusFmt(v) { return v < 0 ? '\u2212' + Math.abs(v) : String(v); }

// four value axes per side: labelled axis, its minor ticks, mirrored axis, its minor ticks
function axisSet(dim, grid, min, max, majors, minors, name, nameGap) {
  const pos = dim === 'x' ? ['bottom', 'top'] : ['left', 'right'];
  const ls = { color: FRAME, width: 1.3 };
  const base = { type: 'value', gridIndex: grid, min: min, max: max, splitLine: { show: false }, silent: true };
  return [
    Object.assign({}, base, {
      position: pos[0], name: name, nameLocation: 'middle', nameGap: nameGap,
      nameTextStyle: { fontSize: 23, color: INK, fontFamily: FONT },
      axisLine: { show: true, onZero: false, lineStyle: ls },
      axisTick: { show: true, inside: true, length: 5, customValues: majors, lineStyle: ls },
      axisLabel: { show: true, customValues: majors, formatter: minusFmt, fontSize: 22, color: INK, fontFamily: FONT, margin: 8 }
    }),
    Object.assign({}, base, {
      position: pos[0],
      axisLine: { show: false, onZero: false },
      axisTick: { show: true, inside: true, length: 3, customValues: minors, lineStyle: ls },
      axisLabel: { show: false }
    }),
    Object.assign({}, base, {
      position: pos[1],
      axisLine: { show: true, onZero: false, lineStyle: ls },
      axisTick: { show: true, inside: true, length: 5, customValues: majors, lineStyle: ls },
      axisLabel: { show: false }
    }),
    Object.assign({}, base, {
      position: pos[1],
      axisLine: { show: false, onZero: false },
      axisTick: { show: true, inside: true, length: 3, customValues: minors, lineStyle: ls },
      axisLabel: { show: false }
    })
  ];
}

function loop(name, data, color, grid, size, lw) {
  return {
    type: 'line', name: name, data: data,
    xAxisIndex: grid * 4, yAxisIndex: grid * 4,
    symbol: 'circle', symbolSize: size, showSymbol: true,
    lineStyle: { color: color, width: lw },
    itemStyle: { color: sphere(color) },
    emphasis: { disabled: true }, silent: true, animation: false
  };
}

const xTitle = 'Electric Field (MV/cm)';
const polTitle = 'Polarization (\u03bcC/cm\u00b2)';
const curTitle = 'Current (\u03bcA)';

const xAxes = [].concat(
  axisSet('x', 0, -10, 10, fieldTicks, fieldMinor, xTitle, 46),
  axisSet('x', 1, -10, 10, fieldTicks, fieldMinor, xTitle, 46),
  axisSet('x', 2, -10, 10, fieldTicks, fieldMinor, xTitle, 46),
  axisSet('x', 3, -10, 10, fieldTicks, fieldMinor, xTitle, 46)
);
const yAxes = [].concat(
  axisSet('y', 0, -22, 22, polTicks, polMinor, polTitle, 51),
  axisSet('y', 1, -65, 65, curTicks, curMinor, curTitle, 51),
  axisSet('y', 2, -22, 22, polTicks, polMinor, polTitle, 51),
  axisSet('y', 3, -65, 65, curTicks, curMinor, curTitle, 51)
);

const peVolt = [pe7V, pe6V, pe5V, pe4V, pe3V];
const ieVolt = [ie7V, ie6V, ie5V, ie4V, ie3V];
const peFreq = [pe5k, pe10k, pe20k];
const ieFreq = [ie5k, ie10k, ie20k];

const series = [];
voltLabels.forEach((n, i) => series.push(loop(n, peVolt[i], voltColors[i], 0, 7, 1.5)));
voltLabels.forEach((n, i) => series.push(loop(n, ieVolt[i], voltColors[i], 1, 7.5, 2)));
series.push(loop(freqLabels[0], peFreq[0], freqColors[0], 2, 6, 6));
series.push(loop(freqLabels[1], peFreq[1], freqColors[1], 2, 6, 5));
series.push(loop(freqLabels[2], peFreq[2], freqColors[2], 2, 7, 1.5));
series.push(loop(freqLabels[0], ieFreq[0], freqColors[0], 3, 8, 2.5));
series.push(loop(freqLabels[1], ieFreq[1], freqColors[1], 3, 8, 2.5));
series.push(loop(freqLabels[2], ieFreq[2], freqColors[2], 3, 7.5, 2));

// legend rows are as tall as their 22px text, so itemGap sets the row pitch
function legendAt(names, left, top, w, h, gap, lw, pad) {
  return {
    data: names, orient: 'vertical', left: left, top: top, padding: 0,
    itemWidth: w, itemHeight: h, itemGap: gap, selectedMode: false,
    lineStyle: { width: lw },
    textStyle: { fontSize: 22, color: INK, fontFamily: FONT, padding: [0, 0, 0, pad] }
  };
}

function label(text, x, y, size, align) {
  return {
    type: 'text', x: x, y: y, silent: true,
    style: { text: text, fontSize: size, fontFamily: FONT, fill: INK, align: align || 'left', verticalAlign: 'middle' }
  };
}

const option = {
  backgroundColor: '#ffffff',
  animation: false,
  grid: [
    { left: 101, top: 69, width: 460, height: 361 },
    { left: 101, top: 535, width: 460, height: 360 },
    { left: 691, top: 69, width: 461, height: 361 },
    { left: 691, top: 535, width: 461, height: 360 }
  ],
  xAxis: xAxes,
  yAxis: yAxes,
  legend: [
    legendAt(voltLabels, 119, 122, 45, 15, 6, 5, 4),
    legendAt(voltLabels, 107, 546, 46, 17, 5.3, 6, 0),
    legendAt(freqLabels, 700, 116, 44, 16, 6.1, 6, 5),
    legendAt(freqLabels, 708, 571, 43, 16, 6.1, 6, 5)
  ],
  graphic: [
    label('a)', 9, 17, 22),
    label('c)', 598, 17, 22),
    label('b)', 9, 513, 22),
    label('d)', 598, 513, 22),
    label('TiN Electrode', 331, 42, 20, 'center'),
    label('TiN Electrode', 922, 42, 20, 'center'),
    label('20kHz', 116, 100, 22),
    label('20kHz', 240, 557, 22),
    label('6V', 735, 97, 22),
    label('6V', 740, 553, 22)
  ],
  series: series
};

const chart = echarts.init(document.getElementById('chart'), null, { renderer: 'canvas' });
chart.setOption(option);
</script>
</body>
</html>
